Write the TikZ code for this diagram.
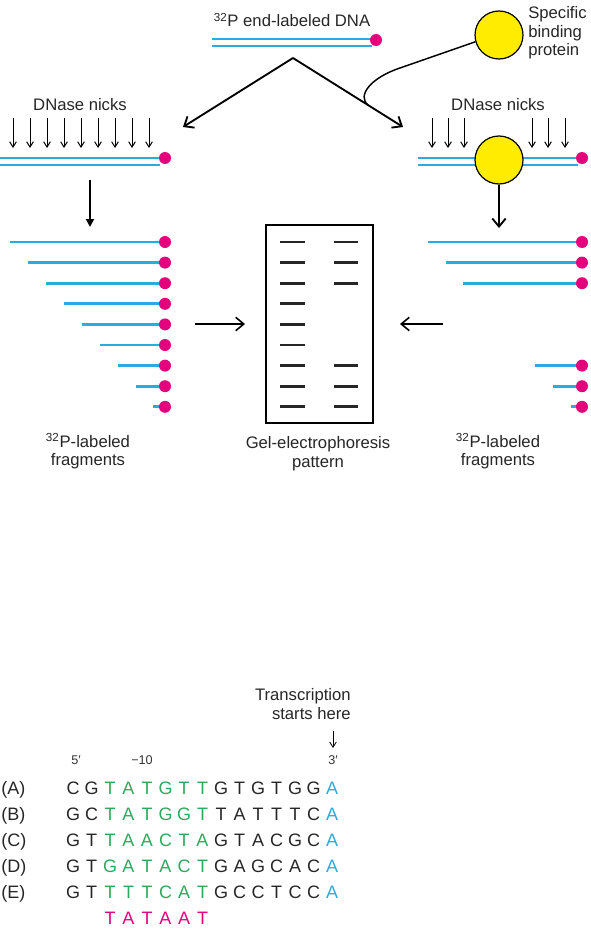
\documentclass[tikz,border=0pt]{standalone}
\usepackage{fontspec}
\setmainfont{Liberation Sans}
\usetikzlibrary{arrows.meta}
\definecolor{dnablue}{RGB}{41,171,226}
\definecolor{labelpink}{RGB}{228,0,124}
\definecolor{protyellow}{RGB}{255,236,0}
\definecolor{boxgreen}{RGB}{46,168,92}
\begin{document}
\begin{tikzpicture}[x=0.75pt,y=-0.75pt,
    strand/.style={dnablue,line width=1.8pt},
    fragment/.style={dnablue,line width=2pt},
    endlabel/.style={fill=labelpink},
    protein/.style={circle,draw=black,line width=0.9pt,fill=protyellow,minimum size=36pt,inner sep=0pt},
    bigarrow/.style={line width=1.4pt,-{Straight Barb[length=6pt,width=10pt]}},
    nick/.style={line width=0.75pt,-{Straight Barb[length=4pt,width=5pt]}},
    band/.style={line width=2.2pt,black!85},
    lbl/.style={font=\fontsize{12.5}{14}\selectfont,text=black!85,align=center,inner sep=0pt},
    seqchar/.style={font=\fontsize{13.5}{16}\selectfont,text=black!85,anchor=base,inner sep=0pt},
    endmark/.style={font=\fontsize{9.5}{11}\selectfont,text=black!80,anchor=base,inner sep=0pt}]
    \useasboundingbox (0,0) rectangle (591,931);

    % end-labeled DNA and the free protein
    \node[lbl,anchor=base] (title) at (292,27) {\textsuperscript{32}P end-labeled DNA};
    \draw[strand] (212,39) -- (372,39);
    \draw[strand] (212,46) -- (372,46);
    \fill[endlabel] (376,40) circle (4.5pt);
    \node[protein] (freeprot) at (499,35) {};
    \node[lbl,align=left,anchor=north west] (protlabel) at (528,6) {Specific\\binding\\protein};

    \coordinate (split) at (293,58);
    \coordinate (leftgoal) at (183,127);
    \coordinate (rightgoal) at (403,127);
    \coordinate (tetherend) at (368,105);
    \draw[bigarrow] (split) -- (leftgoal);
    \draw[bigarrow] (split) -- (rightgoal);
    \draw[line width=1.1pt] (freeprot.196) -- (400,68) .. controls (370,78) and (357,96) .. (tetherend);

    % left: naked DNA
    \node[lbl,anchor=base] (leftnicks) at (80,110) {DNase nicks};
    \foreach \x in {13,30,...,149}
        \draw[nick] (\x,118) -- (\x,148);
    \draw[strand] (0,158) -- (160,158);
    \draw[strand] (0,165) -- (160,165);
    \fill[endlabel] (165,158) circle (4.5pt);
    \coordinate (leftdown) at (90,180);
    \coordinate (leftfrag) at (90,227);
    \draw[line width=1.4pt,-{Triangle[length=6pt,width=6pt]}] (leftdown) -- (leftfrag);
    \foreach \s [count=\i] in {10,28,46,64,82,100,118,136,153} {
        \draw[fragment] (\s,{242+20.6*(\i-1)}) -- (165,{242+20.6*(\i-1)});
        \fill[endlabel] (165,{242+20.6*(\i-1)}) circle (4.5pt);
    }
    \node[lbl,anchor=north] (leftlabel) at (88,433) {\textsuperscript{32}P-labeled\\fragments};

    % right: DNA with bound protein
    \node[lbl,anchor=base] (rightnicks) at (498,110) {DNase nicks};
    \foreach \x in {432,448,464,532,548,565}
        \draw[nick] (\x,118) -- (\x,148);
    \draw[strand] (418,158) -- (578,158);
    \draw[strand] (418,165) -- (578,165);
    \fill[endlabel] (582,158) circle (4.5pt);
    \node[protein] (boundprot) at (499,160) {};
    \coordinate (rightfrag) at (499,228);
    \draw[bigarrow] (boundprot) -- (rightfrag);
    \foreach \s/\i in {428/1,446/2,463/3,535/7,553/8,571/9} {
        \draw[fragment] (\s,{242+20.6*(\i-1)}) -- (582,{242+20.6*(\i-1)});
        \fill[endlabel] (582,{242+20.6*(\i-1)}) circle (4.5pt);
    }
    \node[lbl,anchor=north] (rightlabel) at (498,433) {\textsuperscript{32}P-labeled\\fragments};

    % gel
    \draw[line width=0.9pt] (266,225) rectangle (373,423);
    \foreach \i in {1,...,9}
        \draw[band] (280,{242+20.6*(\i-1)}) -- (305,{242+20.6*(\i-1)});
    \foreach \i in {1,2,3,7,8,9}
        \draw[band] (334,{242+20.6*(\i-1)}) -- (358,{242+20.6*(\i-1)});
    \node[lbl,anchor=north] (gellabel) at (318,436) {Gel-electrophoresis\\pattern};
    \coordinate (leftin) at (195,324);
    \coordinate (leftgel) at (245,324);
    \coordinate (rightin) at (443,324);
    \coordinate (rightgel) at (400,324);
    \draw[bigarrow,line width=1.2pt] (leftin) -- (leftgel);
    \draw[bigarrow,line width=1.2pt] (rightin) -- (rightgel);

    % promoter sequences
    \node[lbl,align=right,anchor=north east] (start) at (351,688) {Transcription\\starts here};
    \coordinate (starttop) at (333,731);
    \coordinate (startbot) at (333,748);
    \draw[line width=0.6pt,-{Straight Barb[length=4pt,width=5pt]}] (starttop) -- (startbot);
    \node[endmark] (five) at (76,764) {5′};
    \node[endmark] (minusten) at (142,764) {−10};
    \node[endmark] (three) at (333,764) {3′};
    \foreach \lab/\seq [count=\r] in {A/{C,G,T,A,T,G,T,T,G,T,G,T,G,G,A},
                                     B/{G,C,T,A,T,G,G,T,T,A,T,T,T,C,A},
                                     C/{G,T,T,A,A,C,T,A,G,T,A,C,G,C,A},
                                     D/{G,T,G,A,T,A,C,T,G,A,G,C,A,C,A},
                                     E/{G,T,T,T,T,C,A,T,G,C,C,T,C,C,A}} {
        \node[seqchar,anchor=base west] (row\lab) at (1,{794+26*(\r-1)}) {(\lab)};
        \foreach \b [count=\i] in \seq {
            \ifnum\i<3 \def\col{black!85}\else\ifnum\i<9 \def\col{boxgreen}\else\ifnum\i<15 \def\col{black!85}\else\def\col{dnablue}\fi\fi\fi
            \node[seqchar,text=\col] (s\r-\i) at ({73+18.5*(\i-1)},{794+26*(\r-1)}) {\b};
        }
    }
    \foreach \b [count=\i] in {T,A,T,A,A,T}
        \node[seqchar,text=labelpink] (cons\i) at ({73+18.5*(\i+1)},924) {\b};
\end{tikzpicture}
\end{document}
